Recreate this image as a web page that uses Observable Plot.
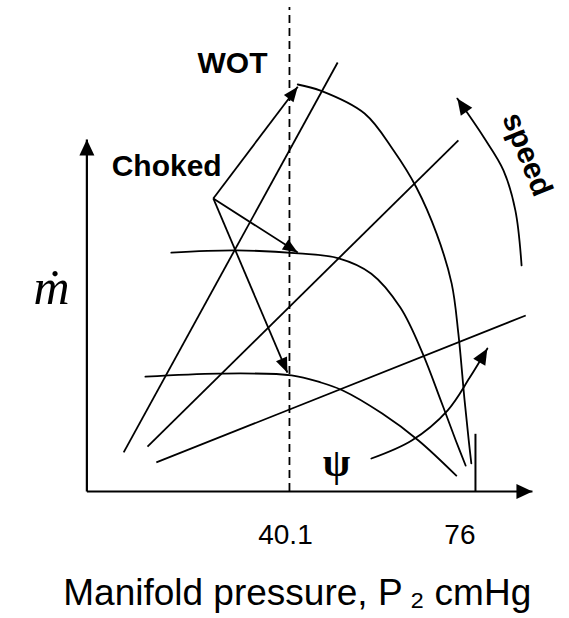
<!DOCTYPE html>
<html><head><meta charset="utf-8">
<script src="https://cdn.jsdelivr.net/npm/d3@7"></script>
<script src="https://cdn.jsdelivr.net/npm/@observablehq/plot@0.6"></script>
<style>body{margin:0;background:#fff}</style>
</head><body><div id="chart"></div>
<script>
// ---- data (x: manifold pressure, cmHg; y: mass flow, arbitrary units) ----
const axisOrigin = [1, 0];
const yAxisTop = 80;
const xAxisEnd = 87;
const wotPressure = 40.1;
const atmPressure = 76;
const tickValues = [40.1, 76];
const tickLabels = ["40.1", "76"];
const dashedTop = 110;
const atmTickTop = 13;

const speedHighX = [41.7, 46.1, 54.6, 60.2, 64.6, 68.5, 71.4, 72.7, 73.9, 74.7, 75.2];
const speedHighY = [92.5, 91.1, 85.9, 77.5, 69.1, 58.6, 47.3, 35.9, 20.7, 11.6, 6.4];
const speedMidX = [17.3, 29.9, 41.8, 49.6, 55.9, 61.5, 65.8, 69.3, 72.2, 74.1];
const speedMidY = [54.3, 54.8, 54.1, 53.0, 49.5, 41.8, 31.4, 20.7, 11.6, 5.9];
const speedLowX = [12.3, 26.4, 40.5, 46.1, 50.3, 58.0, 65.0, 72.3];
const speedLowY = [26.1, 26.8, 26.4, 24.8, 23.0, 17.7, 11.6, 3.6];

const throttleX1 = [8.1, 12.7, 14.4];
const throttleY1 = [8.9, 10.2, 6.6];
const throttleX2 = [49.4, 72.7, 85.7];
const throttleY2 = [97.5, 79.8, 40.0];

const chokedFrom = [25.4, 66.6];
const chokedToX = [41.7, 41.7, 39.7];
const chokedToY = [92.0, 54.3, 27.0];

const speedArrowX = [84.9, 83.7, 81.4, 77.6, 72.5];
const speedArrowY = [51.4, 63.9, 73.0, 80.5, 89.3];
const psiArrowX = [55.9, 63.7, 70.6, 74.9, 78.3];
const psiArrowY = [7.5, 11.6, 18.4, 25.9, 32.5];

const labelText = ["WOT", "Choked"];
const labelX = [29.1, 16.4];
const labelY = [95.2, 71.6];
const speedLabel = "speed";
const speedLabelPos = [86.0, 76.6];
const psiLabel = "ψ";
const psiLabelPos = [49.2, 6.4];
const mdotLabel = "ṁ";
const mdotLabelPos = [-5.8, 46.2];
const xTitle = "Manifold pressure, P\u2009₂ cmHg";
const xTitlePos = [41.6, -25.9];

// ---- helpers ----
const pts = (xs, ys) => xs.map((x, i) => ({x, y: ys[i]}));
const idx = (a) => a.map((_, i) => i);
const sans = "'Liberation Sans', Arial, Helvetica, sans-serif";
const serif = "'Liberation Serif', 'Times New Roman', serif";

function arrowHead(len, wid) {
  return (color, context) => {
    const ns = "http://www.w3.org/2000/svg";
    const doc = (context && context.document) || document;
    const m = doc.createElementNS(ns, "marker");
    m.setAttribute("viewBox", `${-len} ${-wid / 2} ${len} ${wid}`);
    m.setAttribute("markerWidth", len);
    m.setAttribute("markerHeight", wid);
    m.setAttribute("markerUnits", "userSpaceOnUse");
    m.setAttribute("orient", "auto");
    m.setAttribute("overflow", "visible");
    const p = doc.createElementNS(ns, "path");
    p.setAttribute("d", `M${-len},${-wid / 2}L0,0L${-len},${wid / 2}Z`);
    p.setAttribute("fill", color === "currentColor" ? "black" : color);
    p.setAttribute("stroke", "none");
    m.appendChild(p);
    return m;
  };
}

const SW = 1.8;

const chart = Plot.plot({
  width: 569,
  height: 618,
  marginLeft: 81.2,
  marginRight: 21.5,
  marginTop: 7,
  marginBottom: 127,
  x: {domain: [0, 90]},
  y: {domain: [0, 110], axis: null},
  style: {fontFamily: sans, color: "black", background: "white", overflow: "visible"},
  marks: [
    // WOT dashed line
    Plot.ruleX([wotPressure], {y1: 0, y2: dashedTop, stroke: "black", strokeWidth: SW, strokeDasharray: "8,5"}),
    // axes with arrows
    Plot.link([axisOrigin], {x1: d => d[0], y1: d => d[1], x2: d => d[0], y2: () => yAxisTop,
      stroke: "black", strokeWidth: 2.2, markerEnd: arrowHead(16, 15)}),
    Plot.link([axisOrigin], {x1: d => d[0], y1: d => d[1], x2: () => xAxisEnd, y2: d => d[1],
      stroke: "black", strokeWidth: 2.2, markerEnd: arrowHead(16, 15)}),
    Plot.ruleX([atmPressure], {y1: 0, y2: atmTickTop, stroke: "black", strokeWidth: 2}),
    // constant-speed curves
    Plot.line(pts(speedHighX, speedHighY), {x: "x", y: "y", curve: "catmull-rom", stroke: "black", strokeWidth: SW}),
    Plot.line(pts(speedMidX, speedMidY), {x: "x", y: "y", curve: "catmull-rom", stroke: "black", strokeWidth: SW}),
    Plot.line(pts(speedLowX, speedLowY), {x: "x", y: "y", curve: "catmull-rom", stroke: "black", strokeWidth: SW}),
    // throttle lines
    Plot.link(idx(throttleX1), {x1: i => throttleX1[i], y1: i => throttleY1[i], x2: i => throttleX2[i], y2: i => throttleY2[i],
      stroke: "black", strokeWidth: SW}),
    // choked arrows
    Plot.link(idx(chokedToX), {x1: () => chokedFrom[0], y1: () => chokedFrom[1], x2: i => chokedToX[i], y2: i => chokedToY[i],
      stroke: "black", strokeWidth: SW, markerEnd: arrowHead(15, 12)}),
    // speed & psi arrows
    Plot.line(pts(speedArrowX, speedArrowY), {x: "x", y: "y", curve: "catmull-rom", stroke: "black", strokeWidth: SW, markerEnd: arrowHead(16, 14)}),
    Plot.line(pts(psiArrowX, psiArrowY), {x: "x", y: "y", curve: "catmull-rom", stroke: "black", strokeWidth: SW, markerEnd: arrowHead(16, 14)}),
    // labels
    Plot.text(idx(labelText), {x: i => labelX[i], y: i => labelY[i], text: i => labelText[i],
      fontSize: 30, fontWeight: "bold", lineAnchor: "bottom", textAnchor: "middle", fill: "black"}),
    Plot.text([speedLabelPos], {x: d => d[0], y: d => d[1], text: () => speedLabel, rotate: 68,
      fontSize: 30, fontWeight: "bold", lineAnchor: "middle", textAnchor: "middle", fill: "black"}),
    Plot.text([psiLabelPos], {x: d => d[0], y: d => d[1], text: () => psiLabel,
      fontSize: 40, fontWeight: "bold", fontFamily: serif, lineAnchor: "middle", textAnchor: "middle", fill: "black"}),
    Plot.text([mdotLabelPos], {x: d => d[0], y: d => d[1], text: () => mdotLabel,
      fontSize: 50, fontFamily: serif, fontStyle: "italic", lineAnchor: "middle", textAnchor: "middle", fill: "black"}),
    Plot.text([xTitlePos], {x: d => d[0], y: d => d[1], text: () => xTitle,
      fontSize: 37, lineAnchor: "bottom", textAnchor: "middle", fill: "black"}),
    // tick labels
    Plot.axisX([tickValues[0]], {tickSize: 0, tickPadding: 33, fontSize: 28, dx: -4,
      tickFormat: d => tickLabels[tickValues.indexOf(d)], label: null}),
    Plot.axisX([tickValues[1]], {tickSize: 0, tickPadding: 33, fontSize: 28, textAnchor: "end",
      tickFormat: d => tickLabels[tickValues.indexOf(d)], label: null})
  ]
});
document.getElementById("chart").appendChild(chart);
</script>
</body></html>
